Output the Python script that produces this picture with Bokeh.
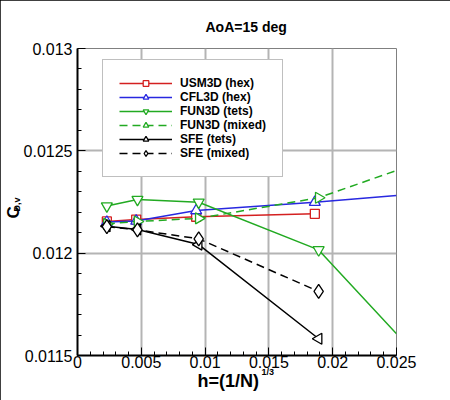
from math import pi
from bokeh.plotting import figure
from bokeh.models import Title, Legend, LegendItem, Range1d, FixedTicker, CustomJSTickFormatter
from bokeh.embed import file_html
from bokeh.resources import INLINE

FONT = "Liberation Sans"

# h=(1/N)^(1/3) vs viscous drag, AoA=15 deg
usm3d_h = [0.0023, 0.0046, 0.0093, 0.0186]
usm3d_cd = [0.012155, 0.012164, 0.012178, 0.012192]
cfl3d_h = [0.0023, 0.0046, 0.0093, 0.0186, 0.025]
cfl3d_cd = [0.012152, 0.012157, 0.012208, 0.012249, 0.012282]
fun3d_tets_h = [0.0023, 0.0047, 0.0095, 0.0189, 0.025]
fun3d_tets_cd = [0.01223, 0.012262, 0.012249, 0.012016, 0.011606]
fun3d_mixed_h = [0.0023, 0.0047, 0.0095, 0.0189, 0.025]
fun3d_mixed_cd = [0.012143, 0.012155, 0.01217, 0.012271, 0.012404]
sfe_tets_h = [0.0023, 0.0047, 0.0095, 0.0189]
sfe_tets_cd = [0.012132, 0.012116, 0.012042, 0.011582]
sfe_mixed_h = [0.0023, 0.0047, 0.0095, 0.0189]
sfe_mixed_cd = [0.01213, 0.012114, 0.01207, 0.011813]

x_ticks = [0, 0.005, 0.01, 0.015, 0.02, 0.025]
y_ticks = [0.0115, 0.012, 0.0125, 0.013]

series = [
    ("USM3D (hex)", usm3d_h, usm3d_cd, "#d42020", "solid", "square", 9, 0),
    ("CFL3D (hex)", cfl3d_h, cfl3d_cd, "#2828e0", "solid", "triangle", 11, 0),
    ("FUN3D (tets)", fun3d_tets_h, fun3d_tets_cd, "#22aa22", "solid", "inverted_triangle", 11, 0),
    ("FUN3D (mixed)", fun3d_mixed_h, fun3d_mixed_cd, "#22aa22", "8 5", "triangle", 11, -pi/2),
    ("SFE (tets)", sfe_tets_h, sfe_tets_cd, "black", "solid", "triangle", 11, pi/2),
    ("SFE (mixed)", sfe_mixed_h, sfe_mixed_cd, "black", "8 5", "diamond", 14, 0),
]

p = figure(width=450, height=400, output_backend="svg", toolbar_location=None,
           x_range=Range1d(0, 0.025), y_range=Range1d(0.0115, 0.013),
           min_border_left=77, min_border_right=54, min_border_top=48, min_border_bottom=45)
p.background_fill_color = "white"
p.border_fill_color = "white"
p.outline_line_color = "#808080"
p.outline_line_width = 1
p.styles = {"outline": "2px solid black", "outline-offset": "-2px"}

p.title.text = "AoA=15 deg"
p.title.align = "left"
p.title.offset = 128
p.title.vertical_align = "middle"
p.title.standoff = 26
p.title.text_font = FONT
p.title.text_font_style = "bold"
p.title.text_font_size = "14px"
p.title.text_color = "black"

fmt = CustomJSTickFormatter(code="return String(parseFloat(tick.toFixed(6)))")
p.xaxis.ticker = FixedTicker(ticks=x_ticks,
                             minor_ticks=[i * 0.001 for i in range(26) if i % 5])
p.yaxis.ticker = FixedTicker(ticks=y_ticks,
                             minor_ticks=[0.0115 + i * 0.0001 for i in range(16) if i % 5])
for ax in (p.xaxis[0], p.yaxis[0]):
    ax.formatter = fmt
    ax.axis_line_color = "black"
    ax.axis_line_width = 2
    ax.major_tick_in = 8
    ax.major_tick_out = 0
    ax.minor_tick_in = 4
    ax.minor_tick_out = 0
    ax.major_tick_line_color = "black"
    ax.minor_tick_line_color = "black"
    ax.major_label_text_font = FONT
    ax.major_label_text_font_size = "16px"
    ax.major_label_text_color = "black"
p.yaxis.major_label_standoff = 5
p.xaxis.major_label_standoff = 0

p.grid.grid_line_color = "#b4b4b4"
p.grid.grid_line_width = 2

items = []
for name, hs, cds, color, dash, marker, size, ang in series:
    ln = p.line(hs, cds, line_color=color, line_width=1.5, line_dash=dash)
    sc = p.scatter(hs[:4], cds[:4], marker=marker, size=size, angle=ang,
                   line_color=color, line_width=1.3, fill_color="white")
    items.append(LegendItem(label=name, renderers=[ln, sc]))

legend = Legend(items=items, location=(25, 178))
legend.border_line_color = "#808080"
legend.border_line_width = 1
legend.background_fill_color = "white"
legend.background_fill_alpha = 1
legend.label_text_font = FONT
legend.label_text_font_style = "bold"
legend.label_text_font_size = "12px"
legend.label_text_color = "black"
legend.glyph_width = 53
legend.glyph_height = 14
legend.label_height = 14
legend.label_standoff = 8
legend.spacing = 0
legend.padding = 16
legend.margin = 0
p.add_layout(legend, "center")

def side_text(s, size, offset, standoff, place):
    p.add_layout(Title(text=s, align="left", offset=offset, vertical_align="middle",
                       standoff=standoff, text_font=FONT, text_font_style="bold",
                       text_font_size=size, text_color="black"), place)

# axis titles with super/subscripts, stacked outward from the axes
side_text("1/3", "9px", 184, -10, "below")
side_text("h=(1/N)", "18px", 120, -6, "below")
side_text("D,v", "9px", 144, -5, "left")
side_text("C", "17px", 137, -25, "left")

open("out.html", "w").write(file_html(p, INLINE))
